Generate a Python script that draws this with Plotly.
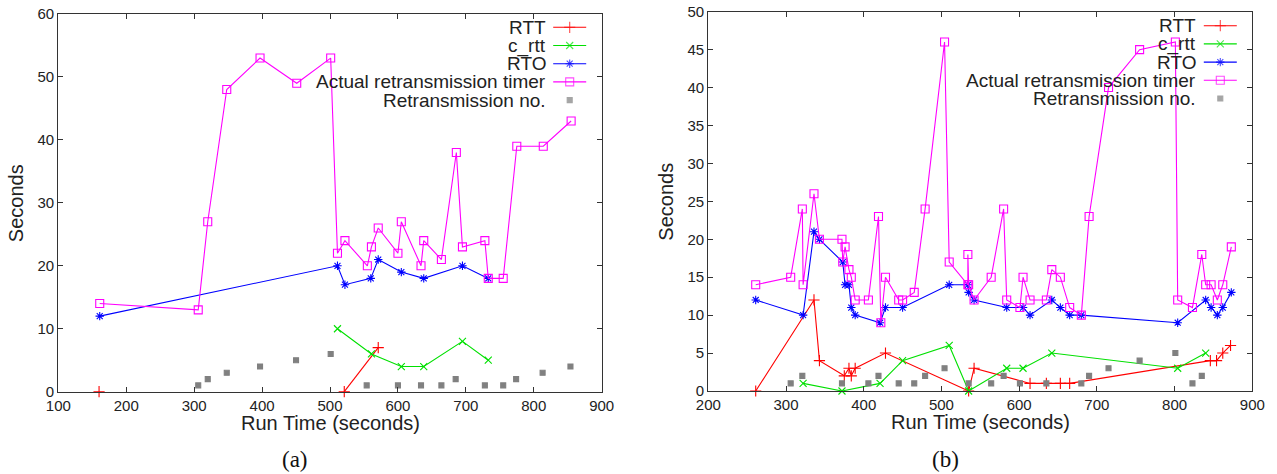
import plotly.graph_objects as go

W, H = 1277, 474

# ---------------- Panel (a) data ----------------
a_rtt_x = [160, None, 521, 571]
a_rtt_y = [0, None, 0, 7]
a_crtt_x = [511, 561, 605, 638, 695, 733]
a_crtt_y = [10, 6, 4, 4, 8, 5]
a_rto_x = [161, 511, 522, 560, 571, 605, 638, 695, 733]
a_rto_y = [12, 20, 17, 18, 21, 19, 18, 20, 18]
a_timer_x = [161, 306, 320, 348, 397, 451, 501, 511, 522, 555, 561, 571, 600, 605,
             634, 638, 664, 686, 695, 728, 733, 755, 775, 814, 855]
a_timer_y = [14, 13, 27, 48, 53, 49, 53, 22, 24, 20, 23, 26, 22, 27,
             20, 24, 21, 38, 23, 24, 18, 18, 39, 39, 43]
a_retx_x = [306, 320, 348, 397, 450, 501, 554, 600, 634, 664, 685, 728, 755, 774, 813, 854]
a_retx_y = [1, 2, 3, 4, 5, 6, 1, 1, 1, 1, 2, 1, 1, 2, 3, 4]

# ---------------- Panel (b) data ----------------
b_rtt_x = [261, 336, 343, 375, 381, 384, 389, 428, 535, 542, 614, 635, 653, 665, 846, 854, 862, 872]
b_rtt_y = [0, 12, 4, 2, 3, 2, 3, 5, 0, 3, 1, 1, 1, 1, 4, 4, 5, 6]
b_crtt_x = [322, 372, 421, 450, 510, 535, 584, 605, 642, 804, 840]
b_crtt_y = [1, 0, 1, 4, 6, 0, 3, 3, 5, 3, 5]
b_rto_x = [261, 322, 336, 343, 373, 376, 381, 384, 389, 421, 428, 450, 510, 534, 535, 542,
           584, 605, 614, 642, 653, 665, 680, 804, 840, 847, 855, 862, 873]
b_rto_y = [12, 10, 21, 20, 17, 14, 14, 11, 10, 9, 11, 11, 14, 14, 13, 12,
           11, 11, 10, 12, 11, 10, 10, 9, 12, 11, 10, 11, 13]
b_timer_x = [261, 306, 321, 322, 336, 343, 372, 373, 376, 381, 384, 389, 406, 419, 422, 428,
             445, 450, 465, 479, 504, 510, 534, 534, 535, 542, 564, 580, 584, 601, 605, 614,
             635, 642, 653, 665, 680, 690, 715, 755, 801, 804, 823, 835, 840, 847, 855, 862, 873]
b_timer_y = [14, 15, 24, 14, 26, 20, 20, 17, 19, 16, 15, 12, 12, 23, 9, 15,
             12, 12, 13, 24, 46, 17, 14, 18, 14, 12, 15, 24, 12, 11, 15, 12,
             12, 16, 15, 11, 10, 23, 40, 45, 46, 12, 11, 18, 14, 14, 12, 14, 19]
b_retx_x = [306, 321, 372, 406, 419, 445, 465, 479, 504, 535, 564, 580, 601, 635, 680, 690,
            715, 755, 801, 823, 835]
b_retx_y = [1, 2, 1, 1, 2, 1, 1, 2, 3, 1, 1, 2, 1, 1, 1, 2, 3, 4, 5, 1, 2]

# axis ranges / ticks
a_xticks = [100, 200, 300, 400, 500, 600, 700, 800, 900]
a_yticks = [0, 10, 20, 30, 40, 50, 60]
b_xticks = [200, 300, 400, 500, 600, 700, 800, 900]
b_yticks = [0, 5, 10, 15, 20, 25, 30, 35, 40, 45, 50]

series_names = ["RTT", "c_rtt", "RTO", "Actual retransmission timer", "Retransmission no."]
series_colors = ["#ff0000", "#00e000", "#0000ff", "#ff00ff", "#808080"]
series_symbols = ["cross-thin-open", "x-thin-open", "asterisk-open", "square-open", "square"]
series_sizes = [8, 7, 7, 8, 5]

fig = go.Figure()

def add_panel(xa, ya, data):
    for i, (xs, ys) in enumerate(data):
        is_pts = i == 4
        fig.add_trace(go.Scatter(
            x=xs, y=ys, xaxis=xa, yaxis=ya,
            mode="markers" if is_pts else "lines+markers",
            name=series_names[i], showlegend=False, cliponaxis=False,
            connectgaps=False,
            line=dict(color=series_colors[i], width=1.1),
            marker=dict(symbol=series_symbols[i], size=series_sizes[i],
                        color=series_colors[i],
                        line=dict(color=series_colors[i], width=1.1)),
        ))

add_panel("x", "y", [(a_rtt_x, a_rtt_y), (a_crtt_x, a_crtt_y), (a_rto_x, a_rto_y),
                     (a_timer_x, a_timer_y), (a_retx_x, a_retx_y)])
add_panel("x2", "y2", [(b_rtt_x, b_rtt_y), (b_crtt_x, b_crtt_y), (b_rto_x, b_rto_y),
                       (b_timer_x, b_timer_y), (b_retx_x, b_retx_y)])

# plot-area boxes in screen pixels (left, right, top, bottom)
boxA = (58.3, 601.7, 14.0, 391.7)
boxB = (708.3, 1252.3, 11.7, 391.0)

def px(x):
    return x / W

def py(y):
    return 1 - y / H

def dom(box):
    l, r, t, b = box
    return [px(l), px(r)], [py(b), py(t)]

tickfont = dict(family="Liberation Sans, Arial, sans-serif", size=15, color="#222")
axcommon = dict(showline=True, linecolor="#333", linewidth=1.3, mirror="ticks",
                ticks="inside", ticklen=5, tickcolor="#333", tickwidth=1.2,
                showgrid=False, zeroline=False, tickfont=tickfont, automargin=False,
                ticklabeloverflow="allow")

dxA, dyA = dom(boxA)
dxB, dyB = dom(boxB)

fig.update_layout(
    width=W, height=H,
    margin=dict(l=0, r=0, t=0, b=0, autoexpand=False),
    paper_bgcolor="white", plot_bgcolor="rgba(0,0,0,0)",
    showlegend=False,
    xaxis=dict(domain=dxA, anchor="y", range=[100, 900], tickvals=a_xticks, **axcommon),
    yaxis=dict(domain=dyA, anchor="x", range=[0, 60], tickvals=a_yticks, **axcommon),
    xaxis2=dict(domain=dxB, anchor="y2", range=[200, 900], tickvals=b_xticks, **axcommon),
    yaxis2=dict(domain=dyB, anchor="x2", range=[0, 50], tickvals=b_yticks, **axcommon),
    xaxis3=dict(domain=[0, 1], anchor="y3", range=[0, W], visible=False,
                fixedrange=True, automargin=False),
    yaxis3=dict(domain=[0, 1], anchor="x3", range=[H, 0], visible=False,
                fixedrange=True, automargin=False),
)

annots = []
shapes = []
title_font = dict(family="Liberation Sans, Arial, sans-serif", size=20, color="#222")
leg_font = dict(family="Liberation Sans, Arial, sans-serif", size=19, color="#222")

for box, lab, row0 in [(boxA, "(a)", 13.3), (boxB, "(b)", 14.0)]:
    l, r, t, b = box
    cx = (l + r) / 2
    annots.append(dict(x=px(cx), y=py(b + 31), xref="paper", yref="paper",
                       text="Run Time (seconds)", showarrow=False, font=title_font,
                       xanchor="center", yanchor="middle"))
    annots.append(dict(x=px(l - 42), y=py((t + b) / 2), xref="paper", yref="paper",
                       text="Seconds", showarrow=False, font=title_font, textangle=-90,
                       xanchor="center", yanchor="middle"))
    annots.append(dict(x=px(cx - 35), y=py(459), xref="paper", yref="paper",
                       text=lab, showarrow=False,
                       font=dict(family="Liberation Serif, Times New Roman, serif", size=23, color="#111"),
                       xanchor="center", yanchor="middle"))
    # custom gnuplot-style key
    mx, my = [], []
    for i, name in enumerate(series_names):
        yy = t + row0 + i * 18.2
        annots.append(dict(x=px(r - 54), y=py(yy), xref="paper", yref="paper",
                           text=name, showarrow=False, font=leg_font,
                           xanchor="right", yanchor="middle"))
        if i < 4:
            shapes.append(dict(type="line", xref="paper", yref="paper",
                               x0=px(r - 48.5), x1=px(r - 15.5), y0=py(yy), y1=py(yy),
                               line=dict(color=series_colors[i], width=1.1)))
        mx.append(r - 32)
        my.append(yy)
    fig.add_trace(go.Scatter(
        x=mx, y=my, xaxis="x3", yaxis="y3", mode="markers", showlegend=False,
        hoverinfo="skip",
        marker=dict(symbol=series_symbols, size=series_sizes, color=series_colors,
                    line=dict(color=series_colors, width=1.1)),
    ))

fig.update_layout(annotations=annots, shapes=shapes)
fig.write_html("out.html", config={"displayModeBar": False},
               post_script="document.body.style.margin='0px';document.body.style.overflow='hidden';")
